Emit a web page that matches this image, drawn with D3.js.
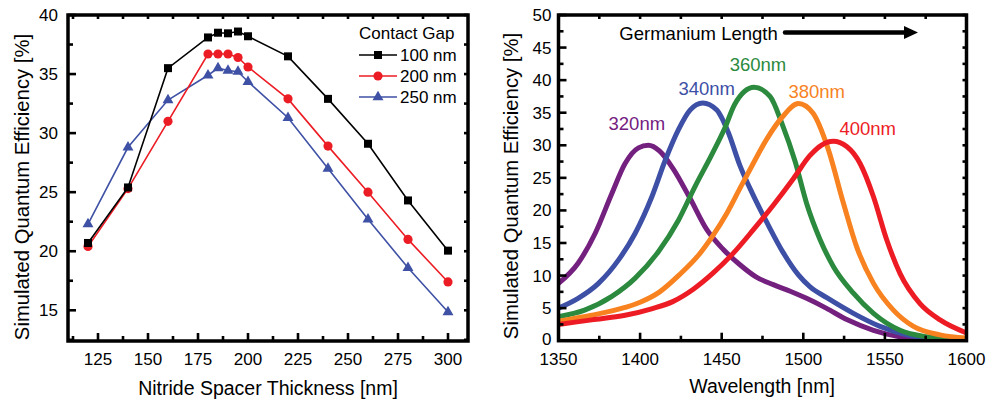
<!DOCTYPE html>
<html><head><meta charset="utf-8">
<script src="https://cdn.jsdelivr.net/npm/d3@7"></script>
<style>
body{margin:0;background:#fff}
svg{display:block}
text{font-family:"Liberation Sans",Arial,Helvetica,sans-serif;fill:#000}
</style>
</head><body>
<svg id="c" width="987" height="403"></svg>
<script>
// ---------- Left chart data ----------
const thickness = [120,140,160,180,185,190,195,200,220,240,260,280,300];
const gapLabels = ["100 nm","200 nm","250 nm"];
const qe100 = [20.7,25.4,35.5,38.1,38.5,38.45,38.6,38.2,36.5,32.9,29.1,24.3,20.05];
const qe200 = [20.4,25.3,31.0,36.7,36.7,36.7,36.4,35.6,32.9,28.9,25.0,21.0,17.4];
const qe250 = [22.3,28.8,32.8,34.9,35.5,35.3,35.2,34.35,31.3,27.0,22.7,18.6,14.85];
const leftXTicks = [125,150,175,200,225,250,275,300];
const leftYTicks = [15,20,25,30,35,40];

// ---------- Right chart data ----------
const geLabels = ["320nm","340nm","360nm","380nm","400nm"];
const wl320 = [1350,1362,1372.5,1382.7,1390.8,1399,1405,1412,1420,1430.5,1441,1451,1461,1471,1481.6,1492,1502,1514,1527,1543,1559,1575,1600];
const qe320 = [8.8,11.9,16.5,22.6,27.2,29.6,30.0,29.1,26.5,21.9,17.0,14.0,11.7,9.8,8.6,7.6,6.5,5.0,3.2,1.6,0.6,0.15,0];
const wl340 = [1350,1362,1374.5,1386.8,1397,1407.2,1415.4,1423.5,1430.6,1438.4,1447,1454,1461,1469,1478,1487.5,1497,1504,1514.4,1530.7,1547,1563.4,1580,1600];
const qe340 = [5.0,6.5,8.8,12.4,16.5,22.1,27.7,32.4,35.4,36.5,35.4,32.0,27.0,22.5,18.0,13.6,10.1,8.3,6.6,4.2,2.2,0.9,0.3,0.1];
const wl360 = [1350,1366,1382.7,1397,1411.3,1423.5,1433.7,1444,1452,1458,1469.8,1479.6,1487,1495,1502,1510.3,1518.4,1530.7,1543,1559.3,1575.6,1600];
const qe360 = [3.7,4.7,6.8,9.6,13.7,18.5,23.7,28.6,32.7,36.3,38.9,37.5,33.3,27.5,21.1,15.5,11.4,7.3,4.2,1.6,0.6,0.1];
const wl380 = [1350,1370.4,1390.8,1400,1412,1424,1436,1445,1453,1461,1469.3,1477.5,1487,1497,1506,1515,1524.6,1532.7,1543,1555.2,1567.5,1583.8,1600];
const qe380 = [3.0,3.9,5.1,5.9,7.5,10.1,13.2,16.3,19.5,23.3,27.2,30.9,34.3,36.4,34.9,29.6,21.1,14.4,8.8,4.7,2.2,0.9,0.4];
const wl400 = [1350,1370.4,1390.8,1407,1420,1432.6,1444.8,1457,1469.3,1481.6,1494,1504,1511,1518.4,1526.6,1534.8,1543,1551.1,1559.3,1571.5,1583.8,1600];
const qe400 = [2.5,3.2,3.9,4.9,6.0,7.9,10.4,13.4,17.0,20.8,24.9,28.4,30.0,30.6,29.8,27.2,22.1,15.5,10.3,5.7,3.2,1.2];
const labelWl = [1398,1440.8,1472.2,1508.2,1539.5];
const labelQe = [32.3,37.7,41.4,37.2,31.6];
const rightXTicks = [1350,1400,1450,1500,1550,1600];
const rightYTicks = [0,5,10,15,20,25,30,35,40,45,50];

const svg = d3.select("#c");

function drawFrame(g, x, y, xMajor, xMinor, yMajor, yMinor, yLabelGap) {
  const [x0, x1] = x.range();
  const [y0, y1] = y.range(); // y0 bottom, y1 top
  const tk = g.append("g").attr("stroke", "#000").attr("stroke-width", 2.6);
  xMinor.forEach(v => {
    tk.append("line").attr("x1", x(v)).attr("x2", x(v)).attr("y1", y0).attr("y2", y0 - 5);
    tk.append("line").attr("x1", x(v)).attr("x2", x(v)).attr("y1", y1).attr("y2", y1 + 4);
  });
  xMajor.forEach(v => {
    tk.append("line").attr("x1", x(v)).attr("x2", x(v)).attr("y1", y0).attr("y2", y0 - 8);
    tk.append("line").attr("x1", x(v)).attr("x2", x(v)).attr("y1", y1).attr("y2", y1 + 4);
  });
  yMinor.forEach(v => {
    tk.append("line").attr("x1", x0).attr("x2", x0 + 5).attr("y1", y(v)).attr("y2", y(v));
    tk.append("line").attr("x1", x1).attr("x2", x1 - 4).attr("y1", y(v)).attr("y2", y(v));
  });
  yMajor.forEach(v => {
    tk.append("line").attr("x1", x0).attr("x2", x0 + 8).attr("y1", y(v)).attr("y2", y(v));
    tk.append("line").attr("x1", x1).attr("x2", x1 - 4).attr("y1", y(v)).attr("y2", y(v));
  });
  g.append("g").selectAll("text").data(xMajor).join("text")
    .attr("x", d => x(d)).attr("y", y0 + 24).attr("text-anchor", "middle")
    .attr("font-size", 17).text(d => d);
  g.append("g").selectAll("text").data(yMajor).join("text")
    .attr("x", x0 - yLabelGap).attr("y", d => y(d) - (d === y.domain()[0] ? 2 : 0))
    .attr("dy", "0.35em").attr("text-anchor", "end")
    .attr("font-size", 17).text(d => d);
  g.append("rect").attr("x", x0).attr("y", y1).attr("width", x1 - x0).attr("height", y0 - y1)
    .attr("fill", "none").attr("stroke", "#000").attr("stroke-width", 3.5);
}

// ================= LEFT CHART =================
const xL = d3.scaleLinear().domain([110, 310]).range([68, 468]);
const yL = d3.scaleLinear().domain([12.4, 40]).range([341, 15]);
const gL = svg.append("g");

drawFrame(gL, xL, yL, leftXTicks, d3.range(112.5, 310, 25), leftYTicks, d3.range(12.5, 40, 5), 10);

const seriesL = [
  {vals: qe100, color: "#000000", sym: d3.symbolSquare, size: 64},
  {vals: qe200, color: "#ec1c24", sym: d3.symbolCircle, size: 66},
  {vals: qe250, color: "#3f51a5", sym: d3.symbolTriangle, size: 52}
];
const lineL = d3.line().x((d, i) => xL(thickness[i])).y(d => yL(d));
seriesL.slice().reverse().forEach(s => {
  gL.append("path").attr("d", lineL(s.vals)).attr("fill", "none")
    .attr("stroke", s.color).attr("stroke-width", 1.6);
  gL.append("g").selectAll("path").data(s.vals).join("path")
    .attr("transform", (d, i) => `translate(${xL(thickness[i])},${yL(d)})`)
    .attr("d", d3.symbol().type(s.sym).size(s.size)).attr("fill", s.color);
});

// legend
const lg = gL.append("g");
lg.append("text").attr("x", 359).attr("y", 39).attr("font-size", 17).text("Contact Gap");
seriesL.forEach((s, i) => {
  const cy = 55 + i * 21;
  lg.append("line").attr("x1", 359).attr("x2", 397).attr("y1", cy).attr("y2", cy)
    .attr("stroke", s.color).attr("stroke-width", 1.6);
  lg.append("path").attr("transform", `translate(378,${cy})`)
    .attr("d", d3.symbol().type(s.sym).size(s.size)).attr("fill", s.color);
  lg.append("text").attr("x", 400).attr("y", cy + 6).attr("font-size", 17).text(gapLabels[i]);
});

gL.append("text").attr("x", 268).attr("y", 395).attr("text-anchor", "middle")
  .attr("font-size", 19.5).text("Nitride Spacer Thickness [nm]");
gL.append("text").attr("transform", "translate(29,187) rotate(-90)").attr("text-anchor", "middle")
  .attr("font-size", 20.3).text("Simulated Quantum Efficiency [%]");

// ================= RIGHT CHART =================
const xR = d3.scaleLinear().domain([1350, 1600]).range([558.5, 966.5]);
const yR = d3.scaleLinear().domain([0, 50]).range([340.7, 15]);
const gR = svg.append("g");

const curves = [
  {wl: wl320, qe: qe320, color: "#74207f"},
  {wl: wl340, qe: qe340, color: "#3d50a6"},
  {wl: wl360, qe: qe360, color: "#2b8a3e"},
  {wl: wl380, qe: qe380, color: "#f7821f"},
  {wl: wl400, qe: qe400, color: "#ed1c24"}
];
gR.append("clipPath").attr("id", "clipR").append("rect")
  .attr("x", 558.5).attr("y", 15).attr("width", 408).attr("height", 325.7);
const lineR = d3.line().curve(d3.curveMonotoneX);
curves.forEach(c => {
  gR.append("path").attr("clip-path", "url(#clipR)")
    .attr("d", lineR(c.wl.map((w, i) => [xR(w), yR(c.qe[i])])))
    .attr("fill", "none").attr("stroke", c.color).attr("stroke-width", 5)
    .attr("stroke-linejoin", "round");
});
curves.forEach((c, i) => {
  gR.append("text").attr("x", xR(labelWl[i])).attr("y", yR(labelQe[i])).attr("text-anchor", "middle")
    .attr("font-size", 18.5).style("fill", c.color).text(geLabels[i]);
});

drawFrame(gR, xR, yR, rightXTicks, d3.range(1375, 1600, 50), rightYTicks, d3.range(2.5, 50, 5), 7);

// annotation
gR.append("text").attr("x", xR(1387.3)).attr("y", yR(46.2)).attr("font-size", 18.5).text("Germanium Length");
gR.append("line").attr("x1", xR(1488.8)).attr("x2", xR(1563)).attr("y1", yR(47.3)).attr("y2", yR(47.3))
  .attr("stroke", "#000").attr("stroke-width", 4.5).attr("stroke-linecap", "round");
const ax = xR(1570.3), ay = yR(47.3);
gR.append("path").attr("d", `M${ax},${ay} L${ax - 14},${ay - 6.5} L${ax - 14},${ay + 6.5} Z`).attr("fill", "#000");

gR.append("text").attr("x", 762).attr("y", 393).attr("text-anchor", "middle")
  .attr("font-size", 19.5).text("Wavelength [nm]");
gR.append("text").attr("transform", "translate(518,186) rotate(-90)").attr("text-anchor", "middle")
  .attr("font-size", 20.3).text("Simulated Quantum Efficiency [%]");
</script>
</body></html>
